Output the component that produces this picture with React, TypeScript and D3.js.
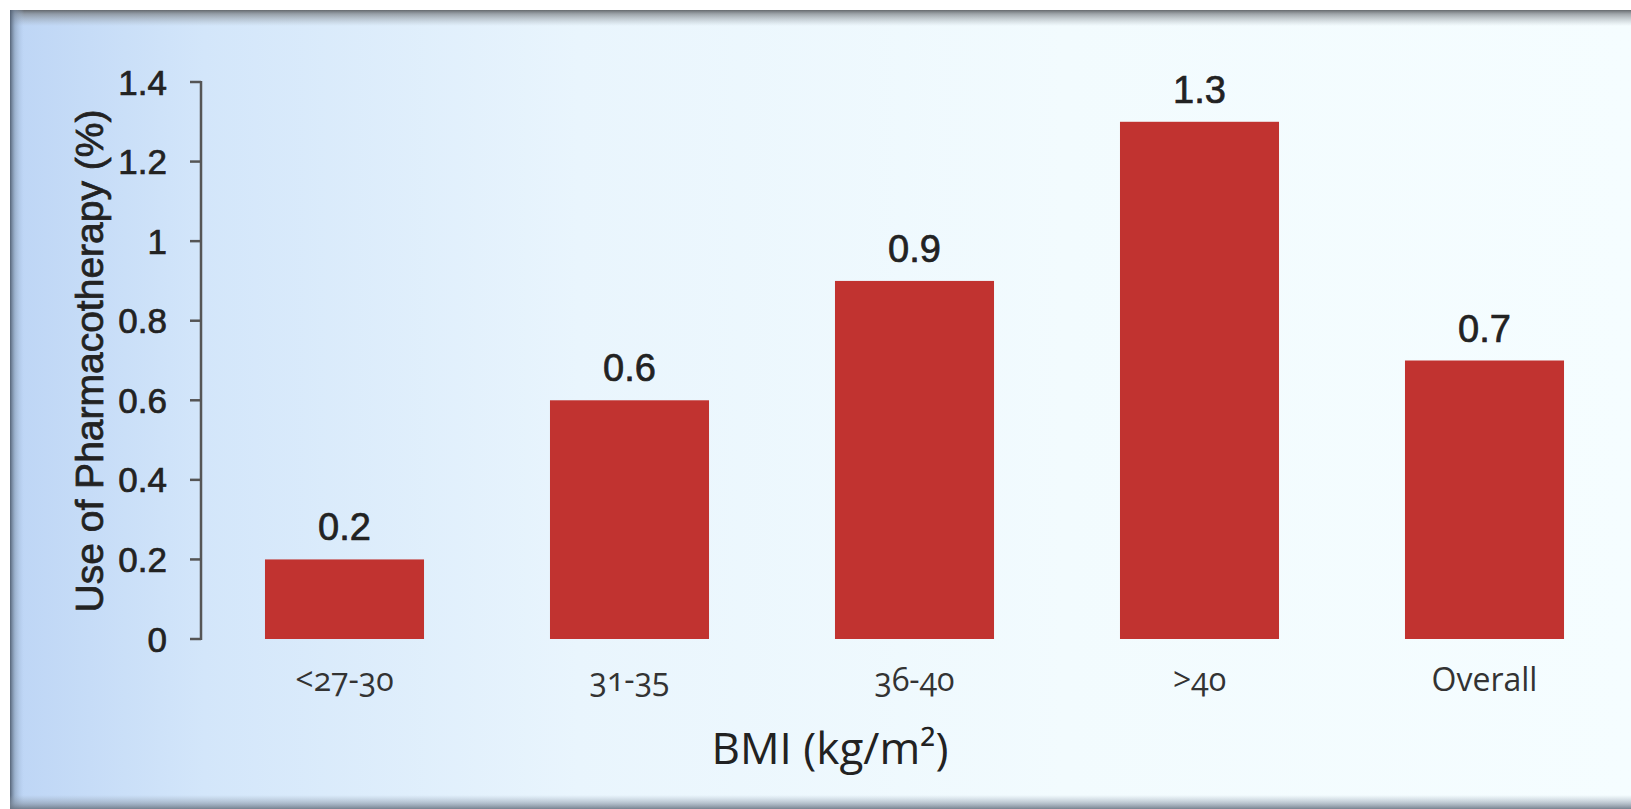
import React from "react";
import * as d3 from "d3";

// BMI groups and share of patients using anti-obesity pharmacotherapy (%)
const categories = ["<27-30", "31-35", "36-40", ">40", "Overall"];
const usePct = [0.2, 0.6, 0.9, 1.3, 0.7];
const yTicks = [0, 0.2, 0.4, 0.6, 0.8, 1.0, 1.2, 1.4];

const W = 1631;
const H = 809;

const SANS = "'Liberation Sans', Arial, Helvetica, sans-serif";
const HUMANIST = "'Open Sans', 'Noto Sans', sans-serif";

export default function App() {
  const x = d3
    .scaleBand<string>()
    .domain(categories)
    .range([202, 1627])
    .paddingInner(0.442)
    .paddingOuter(0.221);

  const y = d3.scaleLinear().domain([0, 1.4]).range([639, 82]);
  const fmt = d3.format("~g");
  const axisX = 201;

  // slightly heavier strokes on the Arial-style labels
  const heavy = { stroke: "#222", strokeWidth: 0.7 };

  return (
    <svg
      width={W}
      height={H}
      viewBox={`0 0 ${W} ${H}`}
      style={{ position: "absolute", left: 0, top: 0, display: "block" }}
    >
      <defs>
        <linearGradient id="panelBg" x1="0" y1="0" x2="1" y2="0">
          <stop offset="0%" stopColor="#bdd5f5" />
          <stop offset="12%" stopColor="#d3e6fa" />
          <stop offset="35%" stopColor="#e9f5fd" />
          <stop offset="65%" stopColor="#f2fbfe" />
          <stop offset="100%" stopColor="#f5fdff" />
        </linearGradient>
        <linearGradient id="topShade" x1="0" y1="0" x2="0" y2="1">
          <stop offset="0%" stopColor="#5e6266" stopOpacity="0.95" />
          <stop offset="25%" stopColor="#7b8085" stopOpacity="0.7" />
          <stop offset="100%" stopColor="#9aa3aa" stopOpacity="0" />
        </linearGradient>
        <linearGradient id="leftShade" x1="0" y1="0" x2="1" y2="0">
          <stop offset="0%" stopColor="#4f5d70" stopOpacity="0.95" />
          <stop offset="35%" stopColor="#7f93ad" stopOpacity="0.55" />
          <stop offset="100%" stopColor="#a9c2e2" stopOpacity="0" />
        </linearGradient>
        <linearGradient id="bottomShade" x1="0" y1="0" x2="0" y2="1">
          <stop offset="0%" stopColor="#9aa8b8" stopOpacity="0" />
          <stop offset="60%" stopColor="#8592a2" stopOpacity="0.55" />
          <stop offset="100%" stopColor="#6b7684" stopOpacity="0.9" />
        </linearGradient>
      </defs>

      <rect x={0} y={0} width={W} height={H} fill="#ffffff" />
      <rect x={10} y={10} width={W - 10} height={H - 10} fill="url(#panelBg)" />
      <rect x={10} y={10} width={W - 10} height={16} fill="url(#topShade)" />
      <rect x={10} y={10} width={14} height={H - 10} fill="url(#leftShade)" />
      <rect x={10} y={795} width={W - 10} height={14} fill="url(#bottomShade)" />

      {/* bars */}
      {categories.map((c, i) => (
        <rect
          key={c}
          x={x(c)}
          y={y(usePct[i])}
          width={x.bandwidth()}
          height={y(0) - y(usePct[i])}
          fill="#c13330"
        />
      ))}

      {/* value labels */}
      {categories.map((c, i) => (
        <text
          key={`v-${c}`}
          x={(x(c) as number) + x.bandwidth() / 2}
          y={y(usePct[i]) - 19}
          textAnchor="middle"
          fontFamily={SANS}
          fontSize={38}
          fill="#222"
          {...heavy}
        >
          {fmt(usePct[i])}
        </text>
      ))}

      {/* y axis */}
      <g stroke="#555" strokeWidth={2.5} fill="none">
        <line x1={axisX} x2={axisX} y1={y(0) + 1} y2={y(1.4) - 1} />
        {yTicks.map((t) => (
          <line key={`t-${t}`} x1={axisX - 11} x2={axisX} y1={y(t)} y2={y(t)} />
        ))}
      </g>
      {yTicks.map((t) => (
        <text
          key={`yl-${t}`}
          x={167}
          y={y(t)}
          dy="0.36em"
          textAnchor="end"
          fontFamily={SANS}
          fontSize={35}
          fill="#222"
          {...heavy}
        >
          {fmt(t)}
        </text>
      ))}

      {/* x category labels */}
      {categories.map((c) => (
        <text
          key={`xl-${c}`}
          x={(x(c) as number) + x.bandwidth() / 2}
          y={691}
          textAnchor="middle"
          fontFamily={HUMANIST}
          fontSize={32}
          fontWeight={500}
          fill="#333"
          style={{ fontVariantNumeric: "oldstyle-nums" }}
        >
          {c}
        </text>
      ))}

      {/* axis titles */}
      <text
        transform={`translate(103, 361) rotate(-90)`}
        textAnchor="middle"
        fontFamily={SANS}
        fontSize={39}
        fill="#222"
        {...heavy}
      >
        Use of Pharmacotherapy (%)
      </text>
      <text
        x={830}
        y={764}
        textAnchor="middle"
        fontFamily={HUMANIST}
        fontSize={44}
        fill="#222"
      >
        BMI (kg/m²)
      </text>
    </svg>
  );
}
